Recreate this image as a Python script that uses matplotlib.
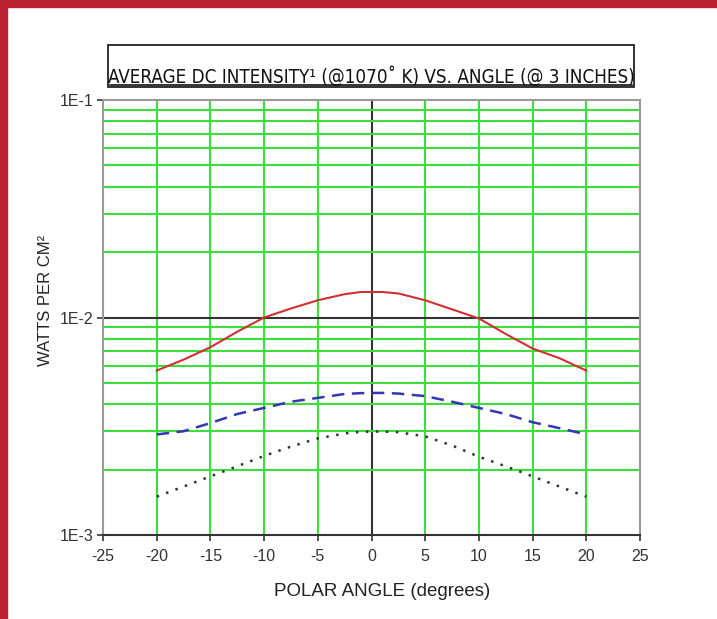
# Average DC intensity vs polar angle, log scale

import numpy as np
import matplotlib
matplotlib.use('Agg')
import matplotlib.pyplot as plt
from matplotlib.patches import Rectangle
from matplotlib.lines import Line2D

# Data
angle = [-20, -17.5, -15, -12.5, -10, -7.5, -5, -2.5, -1, 0, 1, 2.5, 5, 7.5, 10, 12.5, 15, 17.5, 20]
red_vals = [0.0057, 0.0064, 0.0073, 0.0086, 0.0100, 0.0110, 0.0120, 0.0128, 0.0131, 0.0131,
            0.0131, 0.0129, 0.0120, 0.0109, 0.0099, 0.0084, 0.0072, 0.0065, 0.0057]
blue_vals = [0.0029, 0.0030, 0.00327, 0.0036, 0.00384, 0.0041, 0.00427, 0.00445, 0.00449, 0.0045,
             0.0045, 0.00447, 0.00435, 0.0041, 0.00384, 0.0036, 0.0033, 0.0031, 0.0029]
black_vals = [0.0015, 0.00167, 0.00186, 0.00207, 0.00231, 0.00255, 0.00278, 0.00293, 0.00298, 0.00299,
              0.00299, 0.00297, 0.00284, 0.00258, 0.00229, 0.00207, 0.00186, 0.00167, 0.0015]

x_ticks = [-25, -20, -15, -10, -5, 0, 5, 10, 15, 20, 25]
y_ticks = [1e-3, 1e-2, 1e-1]
y_ticklabels = ['1E-3', '1E-2', '1E-1']
title = 'AVERAGE DC INTENSITY\u00b9 (@1070\u02da K) VS. ANGLE (@ 3 INCHES)'

plt.rcParams['font.family'] = ['Liberation Sans', 'DejaVu Sans']

fig = plt.figure(figsize=(7.17, 6.19), dpi=100)

# Red frame on top and left
fig.patches.append(Rectangle((0, 1 - 7/619), 1, 7/619, transform=fig.transFigure,
                             color='#B92030', zorder=0))
fig.patches.append(Rectangle((0, 0), 7/717, 1, transform=fig.transFigure,
                             color='#B92030', zorder=0))

ax = fig.add_axes([103/717, 84/619, 537/717, 435/619])
ax.set_yscale('log')
ax.set_xlim(-25, 25)
ax.set_ylim(1e-3, 1e-1)

# Grid lines
green = '#3AE03A'
for x in x_ticks[1:-1]:
    if x == 0:
        ax.axvline(x, color='#333333', lw=1.5, zorder=1)
    else:
        ax.axvline(x, color=green, lw=1.5, zorder=1)
for dec in [1e-3, 1e-2]:
    for m in range(2, 10):
        ax.axhline(dec*m, color=green, lw=1.5, zorder=1)
ax.axhline(1e-2, color='#333333', lw=1.5, zorder=1)

# Curves
ax.plot(angle, red_vals, color='#D03030', lw=1.5, zorder=3)
ax.plot(angle, blue_vals, color='#3535B5', lw=1.8, dashes=(5, 3), zorder=3)
ax.plot(angle, black_vals, color='#333333', lw=1.8, dashes=(1, 3), zorder=3)

# Axes and ticks
for s in ['top', 'right', 'left']:
    ax.spines[s].set_color('#999999')
    ax.spines[s].set_linewidth(1.5)
ax.spines['bottom'].set_color('#333333')
ax.spines['bottom'].set_linewidth(1.5)

ax.set_xticks(x_ticks)
ax.set_xticklabels([str(x) for x in x_ticks])
ax.set_yticks(y_ticks)
ax.set_yticklabels(y_ticklabels)
ax.yaxis.set_minor_locator(matplotlib.ticker.NullLocator())
ax.tick_params(axis='both', labelsize=11.5, length=4, width=1.2, pad=6)
ax.tick_params(axis='y', colors='#333333', pad=3)
ax.tick_params(axis='x', colors='#333333')
for t, x in zip(ax.xaxis.get_major_ticks(), x_ticks):
    if x not in (-25, 0, 25):
        t.tick1line.set_color(green)

ax.set_xlabel('POLAR ANGLE (degrees)', fontsize=13.5, color='#222222')
ax.xaxis.set_label_coords(0.52, -0.11)
ax.set_ylabel('WATTS PER CM\u00b2', fontsize=12, color='#222222')
ax.yaxis.set_label_coords(-0.093, 0.54)

# Title box with underlined text
fig.patches.append(Rectangle((108/717, 1 - 87/619), 526/717, 42/619, transform=fig.transFigure,
                             fill=False, edgecolor='#222222', lw=1.3))
fig.text(371/717, 1 - 83/619, title, ha='center', va='baseline', fontsize=13.5,
         family='DejaVu Sans', stretch='condensed', color='#111111')
fig.lines.append(Line2D([110/717, 632/717], [1 - 85/619, 1 - 85/619],
                        transform=fig.transFigure, color='#111111', lw=1.2))

fig.savefig('out.png', dpi=100)
